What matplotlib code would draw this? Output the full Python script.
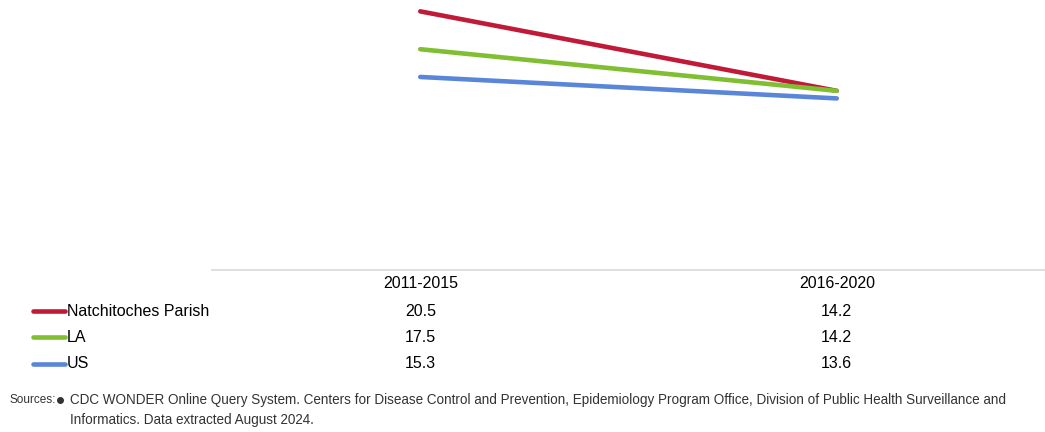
import matplotlib
matplotlib.use("Agg")
import matplotlib.pyplot as plt
from matplotlib.lines import Line2D
from matplotlib.transforms import blended_transform_factory

periods = ["2011-2015", "2016-2020"]
series_names = ["Natchitoches Parish", "LA", "US"]
natchitoches = [20.5, 14.2]
la = [17.5, 14.2]
us = [15.3, 13.6]
series_values = [natchitoches, la, us]
colors = ["#C01A38", "#80BE32", "#5A86DA"]

plt.rcParams["font.family"] = ["Liberation Sans", "DejaVu Sans"]

W, H = 1045, 432
fig = plt.figure(figsize=(W / 100, H / 100), dpi=100)
ax = fig.add_axes([212 / W, 1 - 270 / H, 1 - 212 / W, 270 / H])

x = list(range(len(periods)))
for name, vals, c in zip(series_names, series_values, colors):
    ax.plot(x, vals, color=c, lw=3.3, solid_capstyle="round")

ax.set_xlim(-0.5, len(periods) - 0.5)
ax.set_ylim(0, 21.4)
for s in ["top", "right", "left"]:
    ax.spines[s].set_visible(False)
ax.spines["bottom"].set_color("#d9d9d9")
ax.spines["bottom"].set_linewidth(1.2)
ax.set_xticks([])
ax.set_yticks([])

# data table under the axis
tr = blended_transform_factory(ax.transData, fig.transFigure)
fs = 11.5
for i, p in enumerate(periods):
    fig.text(i, 1 - 284 / H, p, transform=tr, ha="center", va="center", fontsize=fs)
row_y = [311, 337, 364]
for name, vals, c, ry in zip(series_names, series_values, colors, row_y):
    yy = 1 - ry / H
    fig.add_artist(Line2D([33 / W, 65 / W], [yy, yy], color=c, lw=3.3,
                          solid_capstyle="round", transform=fig.transFigure))
    fig.text(67 / W, yy, name, ha="left", va="center", fontsize=fs)
    for i, v in enumerate(vals):
        fig.text(i, yy, f"{v:.1f}", transform=tr, ha="center", va="center", fontsize=fs)

# sources
grey = "#333333"
fig.text(9 / W, 1 - 400 / H, "Sources:", ha="left", va="center", fontsize=8.5, color=grey)
fig.add_artist(Line2D([59.5 / W], [1 - 400 / H], marker="o", markersize=4, color=grey,
                      transform=fig.transFigure))
fig.text(70 / W, 1 - 400 / H,
         "CDC WONDER Online Query System. Centers for Disease Control and Prevention, "
         "Epidemiology Program Office, Division of Public Health Surveillance and",
         ha="left", va="center", fontsize=9.75, color=grey)
fig.text(70 / W, 1 - 420 / H, "Informatics. Data extracted August 2024.",
         ha="left", va="center", fontsize=9.75, color=grey)

fig.savefig("out.png", dpi=100)
